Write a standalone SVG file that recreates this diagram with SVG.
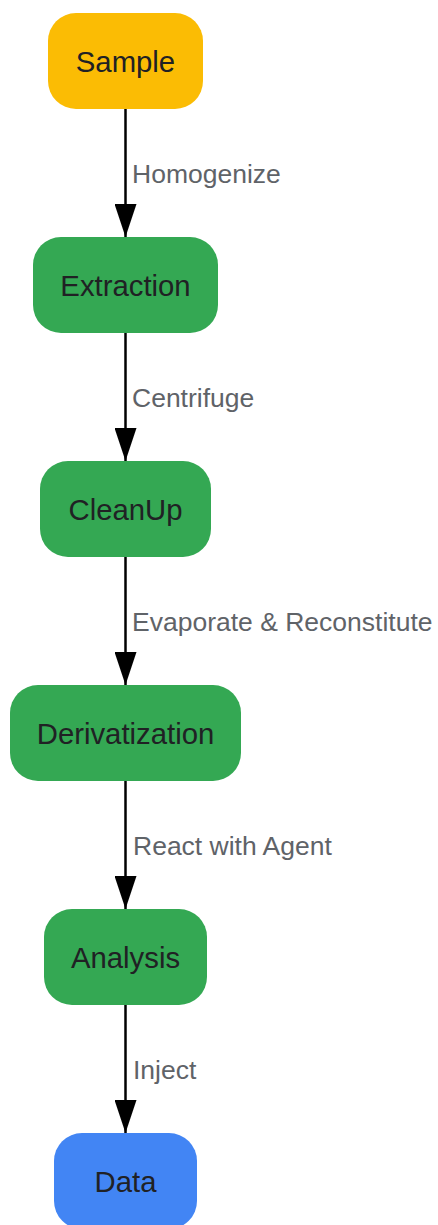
<svg xmlns="http://www.w3.org/2000/svg" width="438" height="1225" viewBox="0 0 438 1225">
<style>
.node text{font-family:"Liberation Sans",Arial,sans-serif;font-size:29.3px;fill:#202124;text-anchor:middle}
.lbl{font-family:"Liberation Sans",Arial,sans-serif;font-size:26.5px;fill:#5f6368}
.edge{stroke:#000;stroke-width:2.5;fill:none}
.y{fill:#FBBC04}.g{fill:#34A853}.b{fill:#4285F4}
</style>
<defs>
<marker id="ah" markerUnits="userSpaceOnUse" markerWidth="34" markerHeight="22" refX="33" refY="11" orient="auto" viewBox="0 0 34 22">
<path d="M0,0 L33,11 L0,22 Z" fill="#000"/>
</marker>
</defs>
<g id="connectors">
<line class="edge" x1="125.5" y1="109" x2="125.5" y2="237" marker-end="url(#ah)"/>
<text class="lbl" x="132" y="183">Homogenize</text>
<line class="edge" x1="125.5" y1="333" x2="125.5" y2="461" marker-end="url(#ah)"/>
<text class="lbl" x="132" y="407">Centrifuge</text>
<line class="edge" x1="125.5" y1="557" x2="125.5" y2="685" marker-end="url(#ah)"/>
<text class="lbl" x="132" y="631">Evaporate &amp; Reconstitute</text>
<line class="edge" x1="125.5" y1="781" x2="125.5" y2="909" marker-end="url(#ah)"/>
<text class="lbl" x="133" y="855">React with Agent</text>
<line class="edge" x1="125.5" y1="1005" x2="125.5" y2="1133" marker-end="url(#ah)"/>
<text class="lbl" x="133" y="1079">Inject</text>
</g>
<g id="sample" class="node"><rect class="y" x="48" y="13" width="155" height="96" rx="28"/><text x="125.5" y="72">Sample</text></g>
<g id="extraction" class="node"><rect class="g" x="33" y="237" width="185" height="96" rx="28"/><text x="125.5" y="296">Extraction</text></g>
<g id="cleanup" class="node"><rect class="g" x="40" y="461" width="171" height="96" rx="28"/><text x="125.5" y="520">CleanUp</text></g>
<g id="derivatization" class="node"><rect class="g" x="10" y="685" width="231" height="96" rx="28"/><text x="125.5" y="744">Derivatization</text></g>
<g id="analysis" class="node"><rect class="g" x="44" y="909" width="163" height="96" rx="28"/><text x="125.5" y="968">Analysis</text></g>
<g id="data" class="node"><rect class="b" x="54" y="1133" width="143" height="96" rx="28"/><text x="125.5" y="1192">Data</text></g>
</svg>
